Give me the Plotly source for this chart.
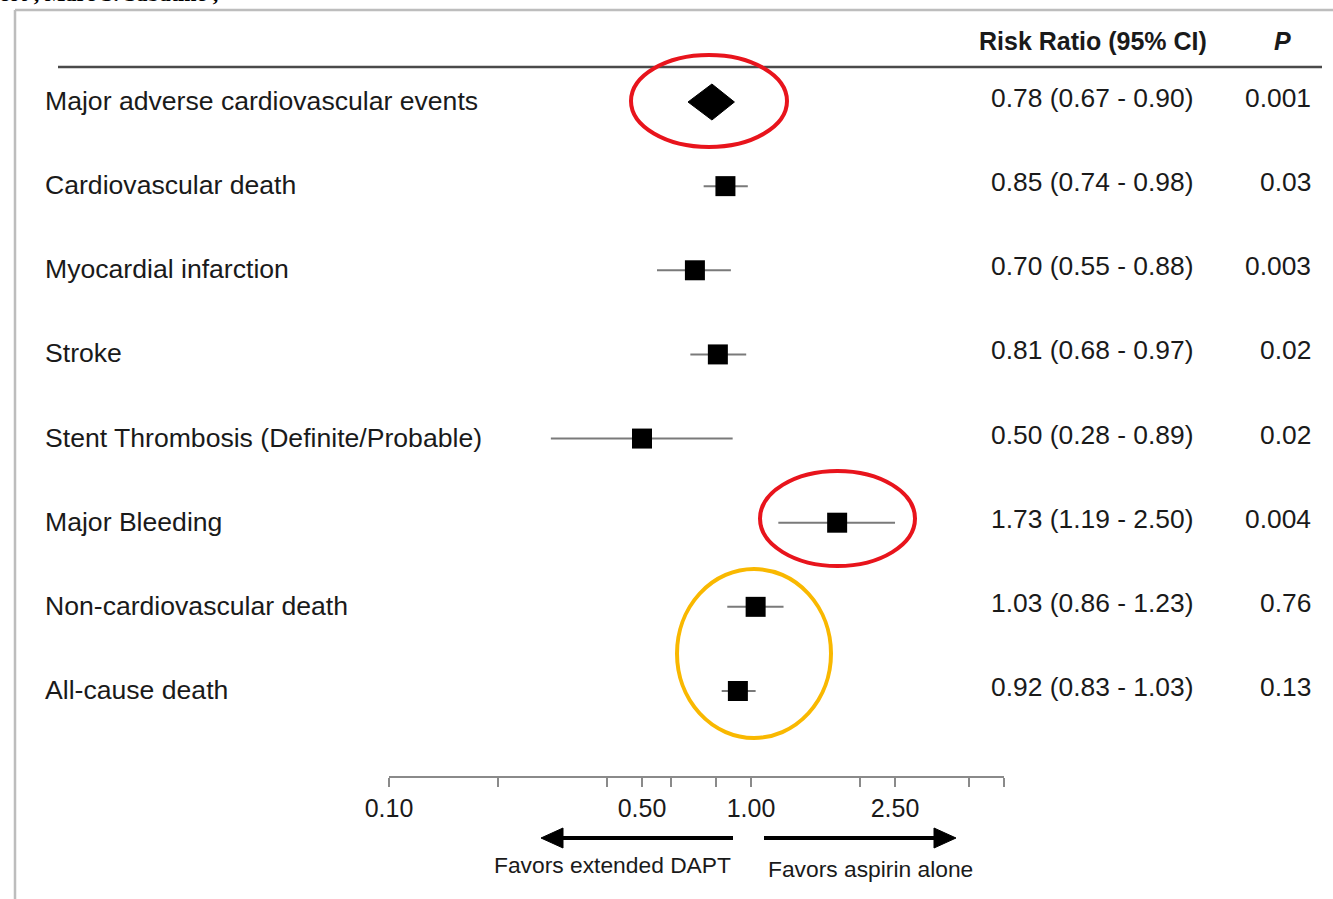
import math
import plotly.graph_objects as go

# ---------------- data ----------------
outcomes = [
    "Major adverse cardiovascular events",
    "Cardiovascular death",
    "Myocardial infarction",
    "Stroke",
    "Stent Thrombosis (Definite/Probable)",
    "Major Bleeding",
    "Non-cardiovascular death",
    "All-cause death",
]
rr = [0.78, 0.85, 0.70, 0.81, 0.50, 1.73, 1.03, 0.92]
ci_low = [0.67, 0.74, 0.55, 0.68, 0.28, 1.19, 0.86, 0.83]
ci_high = [0.90, 0.98, 0.88, 0.97, 0.89, 2.50, 1.23, 1.03]
p_values = ["0.001", "0.03", "0.003", "0.02", "0.02", "0.004", "0.76", "0.13"]
is_summary = [True, False, False, False, False, False, False, False]

tick_vals = [0.1, 0.2, 0.4, 0.5, 0.6, 0.8, 1, 2, 2.5, 4, 5]
tick_text = ["0.10", "", "", "0.50", "", "", "1.00", "", "2.50", "", ""]
x_min, x_max = 0.1, 5.0

# ---------------- layout helpers ----------------
W, H = 1333, 899
FONT = "Liberation Sans, Arial, Helvetica, sans-serif"
TXT = "#1a1a1a"


def px(x):
    return x / W


def py(y):
    return 1 - y / H


row_top_px, row_step_px = 102.0, 84.14
y_range = [(H - row_top_px) / row_step_px, -row_top_px / row_step_px]
rows = list(range(len(outcomes)))

fig = go.Figure()

# CI whiskers (non-summary rows)
wx, wy = [], []
for i in rows:
    if not is_summary[i]:
        wx += [ci_low[i], ci_high[i], None]
        wy += [i, i, None]
fig.add_trace(go.Scatter(x=wx, y=wy, mode="lines",
                         line=dict(color="#7a7a7a", width=2),
                         hoverinfo="skip", showlegend=False))

# squares
sq_x = [rr[i] for i in rows if not is_summary[i]]
sq_y = [i for i in rows if not is_summary[i]]
fig.add_trace(go.Scatter(x=sq_x, y=sq_y, mode="markers",
                         marker=dict(symbol="square", size=20, color="black",
                                     line=dict(width=0)),
                         showlegend=False))

# summary diamond
dh = 18 / row_step_px
for i in rows:
    if is_summary[i]:
        fig.add_trace(go.Scatter(
            x=[ci_low[i], rr[i], ci_high[i], rr[i], ci_low[i]],
            y=[i, i - dh, i, i + dh, i],
            mode="lines", fill="toself", fillcolor="black",
            line=dict(color="black", width=1), showlegend=False))

shapes = []
# frame of the scanned page
shapes.append(dict(type="line", xref="paper", yref="paper",
                   x0=px(15), x1=px(15), y0=py(10), y1=py(H + 5),
                   line=dict(color="#bdbdbd", width=2.5)))
shapes.append(dict(type="line", xref="paper", yref="paper",
                   x0=px(15), x1=px(W + 5), y0=py(10), y1=py(10),
                   line=dict(color="#bdbdbd", width=2.5)))
# header rule
shapes.append(dict(type="line", xref="paper", yref="paper",
                   x0=px(58), x1=px(1322), y0=py(67), y1=py(67),
                   line=dict(color="#4a4a4a", width=2.5)))
# line of no effect
shapes.append(dict(type="line", xref="x", yref="paper",
                   x0=math.log10(1), x1=math.log10(1), y0=py(67), y1=py(777),
                   line=dict(color="#3a3a3a", width=2.5)))
# arrows
ay = 838
shapes.append(dict(type="line", xref="paper", yref="paper",
                   x0=px(733), x1=px(558), y0=py(ay), y1=py(ay),
                   line=dict(color="black", width=4)))
shapes.append(dict(type="path", xref="paper", yref="paper",
                   path=f"M {px(541)} {py(ay)} L {px(563)} {py(ay-10)} L {px(563)} {py(ay+10)} Z",
                   fillcolor="black", line=dict(color="black", width=1)))
shapes.append(dict(type="line", xref="paper", yref="paper",
                   x0=px(764), x1=px(938), y0=py(ay), y1=py(ay),
                   line=dict(color="black", width=4)))
shapes.append(dict(type="path", xref="paper", yref="paper",
                   path=f"M {px(956)} {py(ay)} L {px(934)} {py(ay-10)} L {px(934)} {py(ay+10)} Z",
                   fillcolor="black", line=dict(color="black", width=1)))
# highlight ellipses
red = "#E8141C"
gold = "#F9B800"
for (x0, x1, y0, y1, col) in [(631, 787, 55, 147, red),
                               (760, 915, 471, 566, red),
                               (677, 831, 569, 738, gold)]:
    shapes.append(dict(type="circle", xref="paper", yref="paper",
                       x0=px(x0), x1=px(x1), y0=py(y0), y1=py(y1),
                       line=dict(color=col, width=4)))

ann = []
for i in rows:
    ann.append(dict(x=px(43), y=i, xref="paper", yref="y", text=outcomes[i],
                    xanchor="left", yanchor="middle", showarrow=False, yshift=1,
                    font=dict(family=FONT, size=26.6, color=TXT)))
    ann.append(dict(x=px(989), y=i, xref="paper", yref="y",
                    text=f"{rr[i]:.2f} ({ci_low[i]:.2f} - {ci_high[i]:.2f})",
                    xanchor="left", yanchor="middle", showarrow=False, yshift=4,
                    font=dict(family=FONT, size=26.4, color=TXT)))
    ann.append(dict(x=px(1313), y=i, xref="paper", yref="y", text=p_values[i],
                    xanchor="right", yanchor="middle", showarrow=False, yshift=4,
                    font=dict(family=FONT, size=26.4, color=TXT)))

ann.append(dict(x=px(977), y=py(41), xref="paper", yref="paper",
                text="<b>Risk Ratio (95% CI)</b>", xanchor="left", yanchor="middle",
                showarrow=False, font=dict(family=FONT, size=25, color=TXT)))
ann.append(dict(x=px(1282), y=py(41), xref="paper", yref="paper",
                text="<b><i>P</i></b>", xanchor="center", yanchor="middle",
                showarrow=False, font=dict(family=FONT, size=25, color=TXT)))
ann.append(dict(x=px(612), y=py(865), xref="paper", yref="paper",
                text="Favors extended DAPT", xanchor="center", yanchor="middle",
                showarrow=False, font=dict(family=FONT, size=22.8, color=TXT)))
ann.append(dict(x=px(870), y=py(869), xref="paper", yref="paper",
                text="Favors aspirin alone", xanchor="center", yanchor="middle",
                showarrow=False, font=dict(family=FONT, size=22.8, color=TXT)))
# cropped author line at the very top of the scan
ann.append(dict(x=px(-3), y=py(-6), xref="paper", yref="paper",
                text="<b>cot¹, Marc S. Sabatine¹,</b>", xanchor="left", yanchor="middle",
                showarrow=False,
                font=dict(family="Liberation Serif, Times New Roman, serif", size=22,
                          color="black")))

fig.update_layout(
    width=W, height=H, autosize=False,
    margin=dict(l=0, r=0, t=0, b=0, pad=0, autoexpand=False),
    paper_bgcolor="white", plot_bgcolor="rgba(0,0,0,0)",
    showlegend=False,
    xaxis=dict(type="log", range=[math.log10(x_min), math.log10(x_max)],
               domain=[px(389), px(1004)], anchor="free", position=py(777),
               showgrid=False, zeroline=False,
               showline=True, linecolor="#8a8a8a", linewidth=2,
               ticks="outside", ticklen=9, tickwidth=2, tickcolor="#8a8a8a",
               tickvals=tick_vals, ticktext=tick_text, ticklabelstandoff=0,
               tickfont=dict(family=FONT, size=25, color=TXT), fixedrange=True),
    yaxis=dict(range=y_range, domain=[0, 1], visible=False, fixedrange=True),
    shapes=shapes, annotations=ann,
)

fig.write_html("out.html", post_script="document.body.style.margin='0';",
               config={"displayModeBar": False})
